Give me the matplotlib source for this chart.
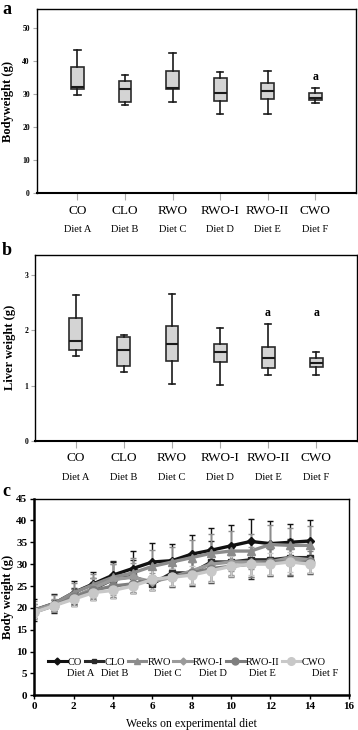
import matplotlib
matplotlib.use("Agg")
import matplotlib.pyplot as plt
from matplotlib.lines import Line2D
import numpy as np

plt.rcParams['font.family'] = ['Liberation Serif', 'DejaVu Serif']

groups = ["CO", "CLO", "RWO", "RWO-I", "RWO-II", "CWO"]
diets = ["Diet A", "Diet B", "Diet C", "Diet D", "Diet E", "Diet F"]

# panel a: bodyweight box stats (low whisker, q1, median, q3, high whisker)
bw_lo = [29.7, 26.6, 27.5, 24.1, 24.1, 27.4]
bw_q1 = [31.4, 27.7, 31.4, 28.0, 28.5, 28.2]
bw_med = [32.1, 31.5, 31.8, 30.2, 31.0, 28.9]
bw_q3 = [38.2, 34.0, 36.9, 34.7, 33.4, 30.2]
bw_hi = [43.3, 35.6, 42.5, 36.7, 37.0, 31.8]
bw_sig = ["", "", "", "", "", "a"]

# panel b: liver weight box stats
lw_lo = [1.54, 1.24, 1.03, 1.01, 1.19, 1.19]
lw_q1 = [1.65, 1.35, 1.45, 1.42, 1.32, 1.33]
lw_med = [1.80, 1.65, 1.75, 1.61, 1.50, 1.41]
lw_q3 = [2.23, 1.89, 2.08, 1.75, 1.70, 1.50]
lw_hi = [2.65, 1.91, 2.66, 2.05, 2.11, 1.61]
lw_sig = ["", "", "", "", "a", "a"]

# panel c: weekly body weight, mean and sd
weeks = list(range(15))
co_mean = [19.5, 21.0, 23.5, 25.5, 27.5, 29.0, 30.5, 30.8, 32.3, 33.2, 34.2, 35.2, 34.7, 35.0, 35.3]
co_sd = [2.5, 2.2, 2.7, 2.8, 2.9, 4.0, 4.4, 3.7, 4.4, 5.1, 4.7, 5.1, 5.2, 4.1, 4.8]
clo_mean = [19.3, 20.5, 22.5, 24.3, 26.5, 27.2, 25.5, 28.0, 28.0, 30.5, 30.5, 31.0, 31.0, 31.5, 31.5]
clo_sd = [1.5, 1.2, 2.0, 2.5, 4.2, 3.7, 1.5, 3.2, 3.0, 4.7, 3.3, 4.5, 3.8, 4.3, 3.7]
rwo_mean = [19.5, 21.0, 23.5, 25.3, 27.0, 28.0, 29.5, 30.5, 31.5, 32.5, 33.0, 33.0, 34.5, 34.3, 34.3]
rwo_sd = [2.0, 2.0, 2.3, 2.5, 3.0, 3.5, 3.8, 3.5, 4.0, 4.3, 4.5, 4.0, 4.5, 4.0, 4.5]
rwoi_mean = [19.3, 20.7, 22.5, 24.5, 26.5, 27.0, 26.0, 27.0, 28.5, 30.0, 30.5, 30.5, 30.5, 31.5, 31.0]
rwoi_sd = [1.5, 1.3, 1.8, 2.3, 3.5, 3.3, 2.0, 2.0, 3.3, 3.8, 3.0, 3.5, 3.0, 4.0, 3.0]
rwoii_mean = [19.0, 20.5, 22.5, 24.0, 25.0, 25.5, 26.5, 27.0, 28.0, 29.0, 29.5, 30.0, 30.5, 30.5, 30.5]
rwoii_sd = [1.3, 1.2, 1.8, 2.0, 2.5, 2.0, 2.5, 2.0, 2.5, 3.0, 2.5, 3.0, 3.0, 3.0, 2.5]
cwo_mean = [19.0, 20.5, 22.0, 23.5, 24.0, 25.0, 26.5, 27.0, 27.5, 28.5, 29.5, 30.0, 30.0, 30.5, 30.0]
cwo_sd = [1.2, 1.0, 1.5, 1.8, 1.8, 1.5, 2.5, 2.0, 2.0, 2.5, 2.3, 2.5, 2.5, 2.3, 2.0]

series = [
    ("CO", co_mean, co_sd, "#111111", "D", 4.5),
    ("CLO", clo_mean, clo_sd, "#2a2a2a", "s", 4.5),
    ("RWO", rwo_mean, rwo_sd, "#8c8c8c", "^", 6),
    ("RWO-I", rwoi_mean, rwoi_sd, "#9a9a9a", "D", 4.5),
    ("RWO-II", rwoii_mean, rwoii_sd, "#7e7e7e", "o", 6),
    ("CWO", cwo_mean, cwo_sd, "#c8c8c8", "o", 6.5),
]


def box_panel(ax, lo, q1, med, q3, hi, sig, ymax, yticks, ylabel, sig_y):
    stats = []
    for i in range(len(groups)):
        stats.append({"whislo": lo[i], "q1": q1[i], "med": med[i],
                      "q3": q3[i], "whishi": hi[i], "label": groups[i]})
    pos = np.arange(1, len(groups) + 1)
    ax.bxp(stats, positions=pos, widths=0.27, patch_artist=True, showfliers=False,
           capwidths=0.14,
           boxprops=dict(facecolor="#d4d4d4", edgecolor="#2b2b2b", linewidth=1.2),
           medianprops=dict(color="#1a1a1a", linewidth=1.5),
           whiskerprops=dict(color="#1a1a1a", linewidth=1.2),
           capprops=dict(color="#1a1a1a", linewidth=1.2))
    for p, s in zip(pos, sig):
        if s:
            ax.text(p, sig_y, s, ha="center", va="center", fontsize=8.5, fontweight="bold")
    ax.set_xlim(0.15, 6.85)
    ax.set_ylim(0, ymax)
    ax.set_yticks(yticks)
    ax.set_xticks(pos)
    ax.set_xticklabels(groups, fontsize=9.5)
    ax.tick_params(axis="x", length=5, color="#aaaaaa", pad=3)
    ax.tick_params(axis="y", length=3, color="#aaaaaa", labelsize=5.5, pad=2)
    for t in ax.get_yticklabels():
        t.set_fontweight("bold")
    for p, d in zip(pos, diets):
        ax.text(p, -0.195, d, transform=ax.get_xaxis_transform(), ha="center",
                va="center", fontsize=7.5)
    ax.set_ylabel(ylabel, fontsize=9, fontweight="bold", labelpad=6)
    for sp in ax.spines.values():
        sp.set_linewidth(1.0)
    ax.spines["bottom"].set_linewidth(1.5)


fig = plt.figure(figsize=(3.58, 7.30), dpi=100)

ax1 = fig.add_axes([0.103, 0.735, 0.891, 0.252])
box_panel(ax1, bw_lo, bw_q1, bw_med, bw_q3, bw_hi, bw_sig, 55.5,
          [0, 10, 20, 30, 40, 50], "Bodyweight (g)", 35.2)

ax2 = fig.add_axes([0.098, 0.396, 0.899, 0.255])
box_panel(ax2, lw_lo, lw_q1, lw_med, lw_q3, lw_hi, lw_sig, 3.37,
          [0, 1, 2, 3], "Liver weight (g)", 2.32)

ax3 = fig.add_axes([0.096, 0.0475, 0.879, 0.2695])
handles = []
for name, m, sd, col, mk, ms in series:
    ax3.errorbar(weeks, m, yerr=sd, color=col, ecolor=col, elinewidth=1.0,
                 capsize=2.5, capthick=1.0, lw=2.4, marker=mk, ms=ms,
                 markeredgecolor=col)
    handles.append(Line2D([], [], color=col, lw=2.2, marker=mk, ms=ms - 1,
                          markeredgecolor=col, label=name))
ax3.set_xlim(0, 16)
ax3.set_ylim(0, 45)
ax3.set_xticks(range(0, 17, 2))
ax3.set_yticks(range(0, 46, 5))
ax3.tick_params(length=3, width=1.0, labelsize=8, pad=2)
for t in ax3.get_xticklabels() + ax3.get_yticklabels():
    t.set_fontweight("bold")
ax3.set_ylabel("Body weight (g)", fontsize=9, fontweight="bold", labelpad=2)
ax3.set_xlabel("Weeks on experimental diet", fontsize=8.5, labelpad=5)
for sp in ax3.spines.values():
    sp.set_linewidth(1.0)
ax3.spines["left"].set_linewidth(1.8)
ax3.spines["bottom"].set_linewidth(1.8)
leg = ax3.legend(handles=handles, ncol=6, loc="center", bbox_to_anchor=(0.485, 0.17),
                 frameon=False, fontsize=7.5, handlelength=1.8, handletextpad=0.1,
                 columnspacing=0.25, borderaxespad=0)
diet_x = [2.35, 4.1, 6.8, 9.1, 11.6, 14.8]
for x, d in zip(diet_x, diets):
    ax3.text(x, 5.0, d, ha="center", va="center", fontsize=7.5)

# panel letters
fig.text(0.006, 0.998, "a", fontsize=13, fontweight="bold", va="top", ha="left")
fig.text(0.006, 0.668, "b", fontsize=13, fontweight="bold", va="top", ha="left")
fig.text(0.006, 0.338, "c", fontsize=13, fontweight="bold", va="top", ha="left")

fig.savefig("out.png", dpi=100)
